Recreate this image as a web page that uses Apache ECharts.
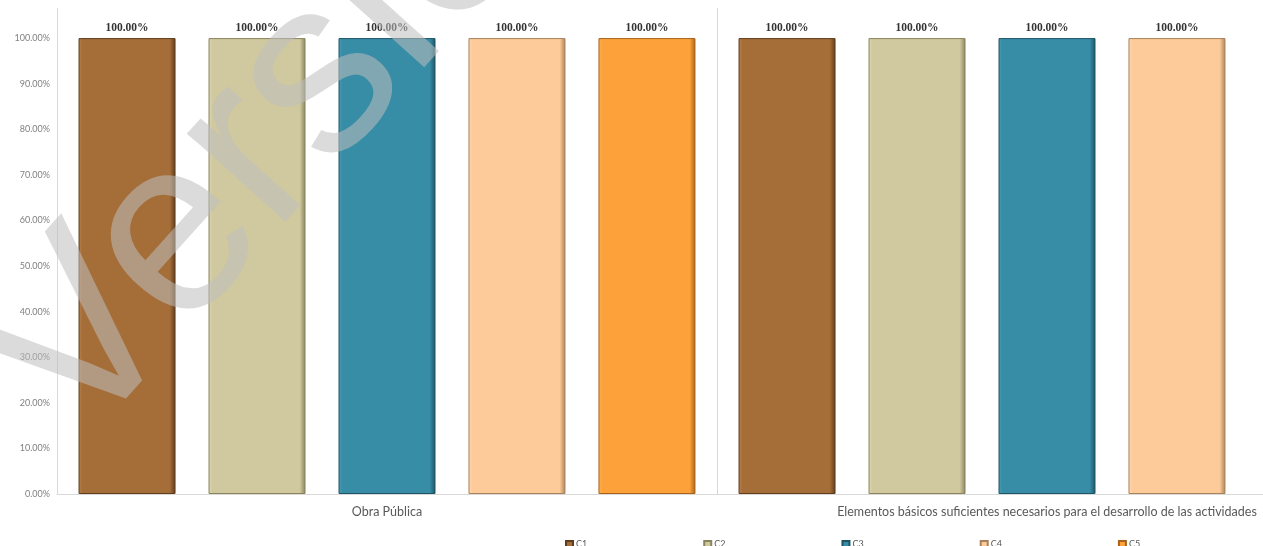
<!DOCTYPE html>
<html>
<head>
<meta charset="utf-8">
<script src="https://cdn.jsdelivr.net/npm/echarts@6/dist/echarts.min.js"></script>
<style>
html,body{margin:0;padding:0;background:#fff;}
#main{width:1263px;height:546px;}
</style>
</head>
<body>
<div id="main"></div>
<script>
const categories = ['Obra Pública', 'Elementos básicos suficientes necesarios para el desarrollo de las actividades'];
const seriesNames = ['C1', 'C2', 'C3', 'C4', 'C5'];
const valuesC1 = [1, 1];
const valuesC2 = [1, 1];
const valuesC3 = [1, 1];
const valuesC4 = [1, 1];
const valuesC5 = [1, null];
const yTicks = [0, 0.1, 0.2, 0.3, 0.4, 0.5, 0.6, 0.7, 0.8, 0.9, 1.0];

const seriesValues = [valuesC1, valuesC2, valuesC3, valuesC4, valuesC5];
const baseColors = ['#A56E39', '#D0C9A0', '#378DA5', '#FDCB99', '#FDA23A'];
const edgeColors = ['#5E3C1C', '#8A845E', '#1E5566', '#A9825B', '#A8621A'];
const lightColors = ['#B98150', '#DDD7B3', '#4A9FB7', '#FFD7AE', '#FFB25A'];

function grad(i) {
  return new echarts.graphic.LinearGradient(0, 0, 1, 0, [
    {offset: 0, color: lightColors[i]},
    {offset: 0.04, color: baseColors[i]},
    {offset: 0.94, color: baseColors[i]},
    {offset: 1, color: edgeColors[i]}
  ]);
}

const chart = echarts.init(document.getElementById('main'), null, {renderer: 'canvas'});

const series = seriesNames.map((name, i) => ({
  name: name,
  type: 'bar',
  data: seriesValues[i],
  barWidth: 97,
  barGap: '34%',
  itemStyle: {
    color: grad(i),
    borderColor: edgeColors[i],
    borderWidth: 1
  },
  label: {
    show: true,
    position: 'top',
    distance: 4,
    formatter: p => (p.value * 100).toFixed(2) + '%',
    fontFamily: 'Liberation Serif',
    fontWeight: 'bold',
    fontSize: 11.5,
    color: '#333'
  }
}));

chart.setOption({
  animation: false,
  backgroundColor: '#fff',
  graphic: [{
    type: 'text',
    x: 120,
    y: 489,
    rotation: 48 * Math.PI / 180,
    z: 100,
    silent: true,
    style: {
      text: 'Versión',
      fontFamily: 'Liberation Sans',
      fontSize: 250,
      fill: 'rgba(190,190,190,0.55)',
      textVerticalAlign: 'bottom',
      textAlign: 'left'
    }
  }],
  legend: {
    data: seriesNames,
    left: 560,
    top: 535,
    itemWidth: 7,
    itemHeight: 7,
    itemGap: 116,
    icon: 'rect',
    textStyle: {fontFamily: 'Lato', fontSize: 9, color: '#595959', padding: [0, 0, 0, -2]}
  },
  grid: {
    left: 57,
    top: 8,
    width: 1320,
    height: 486,
    containLabel: false,
    outerBoundsMode: 'none'
  },
  xAxis: {
    type: 'category',
    data: categories,
    boundaryGap: true,
    axisLine: {show: true, lineStyle: {color: '#d9d9d9', width: 1}},
    axisTick: {show: false},
    splitLine: {show: true, lineStyle: {color: '#d9d9d9', width: 1}},
    axisLabel: {
      interval: 0,
      margin: 11,
      fontFamily: 'Lato',
      fontSize: 12.5,
      color: '#595959'
    }
  },
  yAxis: {
    type: 'value',
    min: 0,
    max: 1.066,
    interval: 0.1,
    axisLine: {show: false},
    axisTick: {show: false},
    splitLine: {show: false},
    axisLabel: {
      margin: 7,
      fontFamily: 'Lato',
      fontSize: 9,
      color: '#808080',
      customValues: yTicks,
      formatter: v => v > 1.0001 ? '' : (v * 100).toFixed(2) + '%'
    }
  },
  series: series
});
</script>
</body>
</html>
